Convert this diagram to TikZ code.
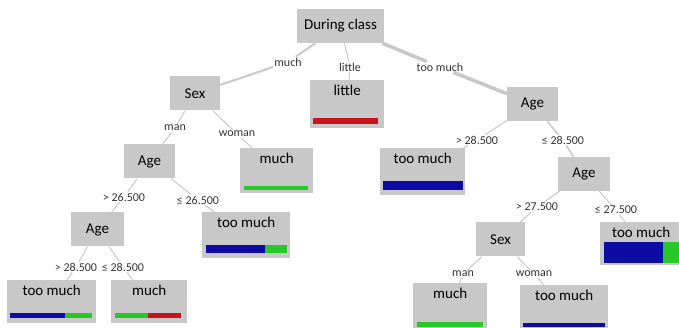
\documentclass[tikz,border=0pt]{standalone}
\usepackage{fontspec}
\setmainfont{Carlito}
\usepackage{tikz}
\definecolor{boxgray}{RGB}{200,200,200}
\definecolor{barblue}{RGB}{12,12,165}
\definecolor{bargreen}{RGB}{40,200,40}
\definecolor{barred}{RGB}{200,20,30}
\begin{document}
\begin{tikzpicture}
        [x=1pt,y=-1pt,
          box/.style={fill=boxgray,inner sep=0pt,font=\fontsize{15}{18}\selectfont},
          split/.style={box,minimum width=51pt,minimum height=34pt},
          leaf/.style={box,anchor=north west,text height=15pt,text depth=30pt},
          cut/.style={inner sep=1pt,font=\fontsize{12}{14}\selectfont,text=black!80},
          edge/.style={draw=boxgray}]
        \useasboundingbox (0,0) rectangle (679,328);
        % splits
        \node[split,minimum width=87pt] (root) at (340.5,26) {During class};
        \node[split,minimum width=50pt] (sexA) at (195,93.5) {Sex};
        \node[split] (ageR) at (532.5,104) {Age};
        \node[split] (ageA) at (149.5,161.5) {Age};
        \node[split,minimum width=52pt] (ageR2) at (584,174) {Age};
        \node[split,minimum width=53pt] (ageA2) at (97.5,229.5) {Age};
        \node[split,minimum width=49pt] (sexR) at (500.5,239.5) {Sex};
        % leaves
        \node[leaf,minimum width=74pt,text depth=33pt] (lLittle) at (310,80) {little};
        \node[leaf,minimum width=73pt] (lMuch1) at (240,148) {much};
        \node[leaf,minimum width=85pt,text depth=32pt] (lTm1) at (380,148) {too much};
        \node[leaf,minimum width=88pt,text depth=31pt] (lTm2) at (202,212) {too much};
        \node[leaf,minimum width=82pt,text depth=28pt] (lTm3) at (600,222) {too much};
        \node[leaf,minimum width=89pt,text depth=28pt] (lTm4) at (7,280) {too much};
        \node[leaf,minimum width=76pt,text depth=28pt] (lMuch2) at (111,280) {much};
        \node[leaf,minimum width=74pt,text depth=31pt] (lMuch3) at (413,283) {much};
        \node[leaf,minimum width=88pt] (lTm5) at (520,285) {too much};
        % bars
        \fill[barred] (313,118) rectangle (378,124);
        \fill[bargreen] (244,186) rectangle (308,190);
        \fill[barblue] (383,181) rectangle (463,190);
        \fill[barblue] (206,245) rectangle (265,253);
        \fill[bargreen] (265,245) rectangle (287,253);
        \fill[barblue] (604,242) rectangle (663,263);
        \fill[bargreen] (663,242) rectangle (682,263);
        \fill[barblue] (10,313) rectangle (65,318);
        \fill[bargreen] (65,313) rectangle (92,318);
        \fill[bargreen] (115,313) rectangle (148,318);
        \fill[barred] (148,313) rectangle (181,318);
        \fill[bargreen] (417,322) rectangle (483,327);
        \fill[barblue] (523,323) rectangle (605,327);
        % edge labels
        \node[cut] (e1) at (288,62) {much};
        \node[cut] (e2) at (350,67) {little};
        \node[cut] (e3) at (440,67) {too much};
        \node[cut] (e4) at (175,128) {man};
        \node[cut] (e5) at (237,134) {woman};
        \node[cut] (e6) at (477,140) {> 28.500};
        \node[cut] (e7) at (563,140) {≤ 28.500};
        \node[cut] (e8) at (124,197) {> 26.500};
        \node[cut] (e9) at (198,200) {≤ 26.500};
        \node[cut] (e10) at (537,207) {> 27.500};
        \node[cut] (e11) at (616,210) {≤ 27.500};
        \node[cut] (e12) at (76,267) {> 28.500};
        \node[cut] (e13) at (123,267) {≤ 28.500};
        \node[cut] (e14) at (463,274) {man};
        \node[cut] (e15) at (534,274) {woman};
        \foreach \from/\via/\to/\w in {root/e1/sexA/2,root/e2/lLittle/1,root/e3/ageR/3.5,
            sexA/e4/ageA/1,sexA/e5/lMuch1/1,ageR/e6/lTm1/1,ageR/e7/ageR2/1.5,
            ageA/e8/ageA2/1,ageA/e9/lTm2/1,ageR2/e10/sexR/1,ageR2/e11/lTm3/1,
            ageA2/e12/lTm4/1,ageA2/e13/lMuch2/1,sexR/e14/lMuch3/1,sexR/e15/lTm5/1}
        \draw[edge,line width=\w pt] (\from) -- (\via) -- (\to);
      \end{tikzpicture}
\end{document}
